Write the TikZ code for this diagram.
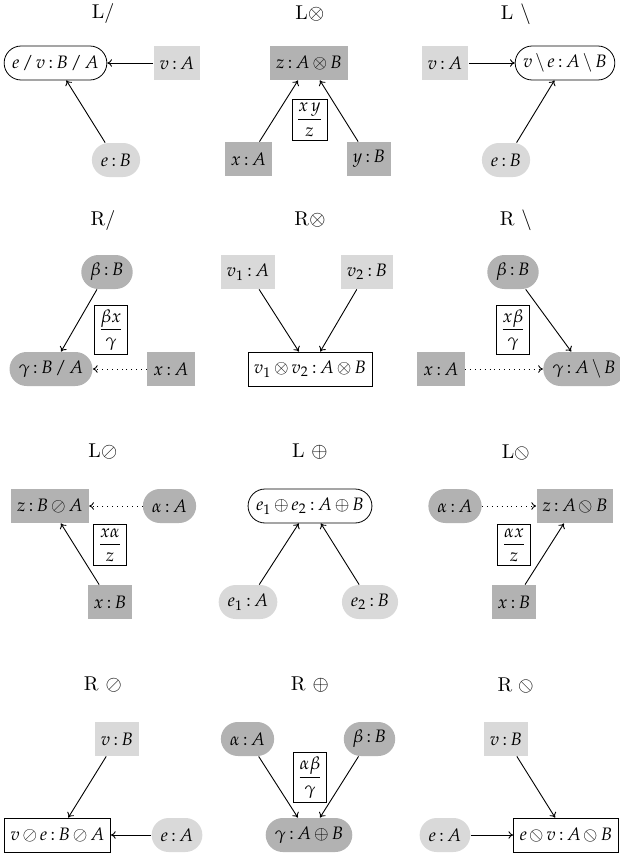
\documentclass[tikz,border=0pt]{standalone}
\usepackage{mathpazo}
\usepackage{stmaryrd}
\usetikzlibrary{arrows.meta}
% binary slashes with operator spacing
\newcommand{\dvr}{\mathbin{/}}
\newcommand{\dvl}{\mathbin{\backslash}}
% displayed fraction for the rule boxes
\newcommand{\rulefrac}[2]{\displaystyle\frac{#1}{#2}}
% tighter spacing around operators and the typing colon
\thickmuskip=3mu
\medmuskip=2.5mu
\colorlet{lightfill}{gray!30}
\colorlet{darkfill}{gray!60}
\begin{document}
\begin{tikzpicture}[x=0.5pt,y=-0.5pt,
  cell/.style={font=\small, minimum height=17pt, inner xsep=3pt, inner ysep=0pt},
  lrect/.style={cell, fill=lightfill},
  drect/.style={cell, fill=darkfill},
  lround/.style={cell, fill=lightfill, rounded corners=8.5pt, inner xsep=4.5pt},
  dround/.style={cell, fill=darkfill, rounded corners=8.5pt, inner xsep=4.5pt},
  wround/.style={cell, draw, fill=white, rounded corners=8.5pt, inner xsep=4pt},
  wrect/.style={cell, draw, fill=white},
  fracbox/.style={font=\small, draw, fill=white, inner xsep=2pt, inner ysep=2pt},
  ttl/.style={inner sep=0pt},
  link/.style={->, >={To[length=2.4pt,width=3.8pt]}, line width=0.45pt},
  hint/.style={link, dotted}
]
\useasboundingbox (0,0) rectangle (620,856);

% ---------------- row 1 ----------------
\node[ttl] (t1) at (103,14) {L/};
\node[wround] (a1) at (55.5,63) {$e \dvr v : B \dvr A$};
\node[lrect]  (b1) at (177,63) {$v : A$};
\node[lround] (c1) at (116,160) {$e : B$};
\draw[link] (b1) -- (a1);
\draw[link] (c1) -- (a1);

\node[ttl] (t2) at (310,14) {L$\otimes$};
\node[drect] (z2) at (309,63) {$z : A \otimes B$};
\node[drect] (x2) at (248.5,159) {$x : A$};
\node[drect] (y2) at (369,159) {$y : B$};
\node[fracbox] (f2) at (309.5,120) {$\rulefrac{x\;y}{z}$};
\draw[link] (x2) -- (z2);
\draw[link] (y2) -- (z2);

\node[ttl] (t3) at (516,14) {L $\backslash$};
\node[lrect]  (v3) at (445,63) {$v : A$};
\node[wround] (w3) at (565,63) {$v \dvl e : A \dvl B$};
\node[lround] (e3) at (506,160) {$e : B$};
\draw[link] (v3) -- (w3);
\draw[link] (e3) -- (w3);

% ---------------- row 2 ----------------
\node[ttl] (t4) at (103,220) {R/};
\node[dround] (b4) at (107,272) {$\beta : B$};
\node[dround] (g4) at (51,369) {$\gamma : B \dvr A$};
\node[drect]  (x4) at (171,369) {$x : A$};
\node[fracbox] (f4) at (111,330) {$\rulefrac{\beta x}{\gamma}$};
\draw[link] (b4) -- (g4);
\draw[hint] (x4) -- (g4);

\node[ttl] (t5) at (310,220) {R$\otimes$};
\node[lrect] (p5) at (248,272) {$v_1 : A$};
\node[lrect] (q5) at (367,272) {$v_2 : B$};
\node[wrect] (r5) at (310,369) {$v_1 \otimes v_2 : A \otimes B$};
\draw[link] (p5) -- (r5);
\draw[link] (q5) -- (r5);

\node[ttl] (t6) at (516,220) {R $\backslash$};
\node[dround] (b6) at (513,272) {$\beta : B$};
\node[dround] (g6) at (584,369) {$\gamma : A \dvl B$};
\node[drect]  (x6) at (441,369) {$x : A$};
\node[fracbox] (f6) at (513,330) {$\rulefrac{x\beta}{\gamma}$};
\draw[link] (b6) -- (g6);
\draw[hint] (x6) -- (g6);

% ---------------- row 3 ----------------
\node[ttl] (t7) at (103,452) {L$\oslash$};
\node[drect]  (z7) at (50,506) {$z : B \oslash A$};
\node[dround] (a7) at (169.5,506) {$\alpha : A$};
\node[fracbox] (f7) at (110,545) {$\rulefrac{x\alpha}{z}$};
\node[drect]  (x7) at (110,602) {$x : B$};
\draw[link] (x7) -- (z7);
\draw[hint] (a7) -- (z7);

\node[ttl] (t8) at (310,452) {L $\oplus$};
\node[wround] (s8) at (310,506) {$e_1 \oplus e_2 : A \oplus B$};
\node[lround] (p8) at (248,602) {$e_1 : A$};
\node[lround] (q8) at (370,602) {$e_2 : B$};
\draw[link] (p8) -- (s8);
\draw[link] (q8) -- (s8);

\node[ttl] (t9) at (516,452) {L$\obslash$};
\node[dround] (a9) at (455,506) {$\alpha : A$};
\node[drect]  (z9) at (575,506) {$z : A \obslash B$};
\node[fracbox] (f9) at (514,545) {$\rulefrac{\alpha x}{z}$};
\node[drect]  (x9) at (514,602) {$x : B$};
\draw[link] (x9) -- (z9);
\draw[hint] (a9) -- (z9);

% ---------------- row 4 ----------------
\node[ttl] (t10) at (103,685) {R $\oslash$};
\node[lrect]  (v10) at (117,739) {$v : B$};
\node[wrect]  (r10) at (57.5,835) {$v \oslash e : B \oslash A$};
\node[lround] (e10) at (177,835) {$e : A$};
\draw[link] (v10) -- (r10);
\draw[link] (e10) -- (r10);

\node[ttl] (t11) at (310,685) {R $\oplus$};
\node[dround] (a11) at (247.5,739) {$\alpha : A$};
\node[dround] (b11) at (369.5,739) {$\beta : B$};
\node[dround] (g11) at (309,835) {$\gamma : A \oplus B$};
\node[fracbox] (f11) at (310,777.5) {$\rulefrac{\alpha\beta}{\gamma}$};
\draw[link] (a11) -- (g11);
\draw[link] (b11) -- (g11);

\node[ttl] (t12) at (516,685) {R $\obslash$};
\node[lrect]  (v12) at (506,739) {$v : B$};
\node[lround] (e12) at (445,835) {$e : A$};
\node[wrect]  (r12) at (566,835) {$e \obslash v : A \obslash B$};
\draw[link] (v12) -- (r12);
\draw[link] (e12) -- (r12);
\end{tikzpicture}
\end{document}
